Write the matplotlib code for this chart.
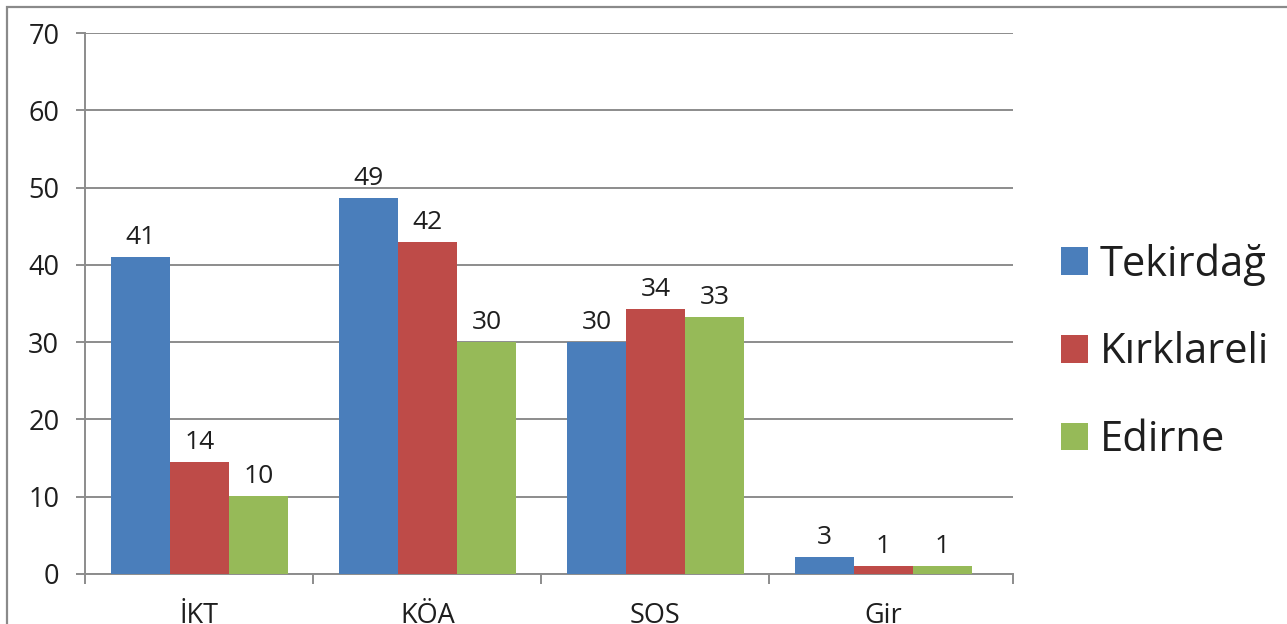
import matplotlib.pyplot as plt
import matplotlib.patches as mpatches
import numpy as np

plt.rcParams['font.family'] = ['Open Sans', 'DejaVu Sans']

categories = ["İKT", "KÖA", "SOS", "Gir"]
series = ["Tekirdağ", "Kırklareli", "Edirne"]
# bar heights as drawn, and the labels printed above them
tekirdag = [41.0, 48.7, 30.0, 2.2]
kirklareli = [14.5, 42.9, 34.3, 1.0]
edirne = [10.1, 30.0, 33.2, 1.0]
tekirdag_lbl = ["41", "49", "30", "3"]
kirklareli_lbl = ["14", "42", "34", "1"]
edirne_lbl = ["10", "30", "33", "1"]
colors = ["#4A7EBB", "#BE4B48", "#96BA58"]

values = [tekirdag, kirklareli, edirne]
labels = [tekirdag_lbl, kirklareli_lbl, edirne_lbl]

fig = plt.figure(figsize=(12.87, 6.24), dpi=100)
ax = fig.add_axes([85 / 1287, 1 - 574 / 624, (1013 - 85) / 1287, (574 - 33) / 624])

# outer chart border (cut off at right and bottom in the original)
fig.patches.append(mpatches.Rectangle((7 / 1287, -0.1), 1.2, 1.1 - 7 / 624,
                                      transform=fig.transFigure, fill=False,
                                      edgecolor="#8a8a8a", linewidth=1.6))

x = np.arange(len(categories))
w = 0.259
grid_c = "#8c8c8c"
txt_c = "#1e1e1e"
for i, (vals, lbls, c, name) in enumerate(zip(values, labels, colors, series)):
    bars = ax.bar(x + (i - 1) * w, vals, width=w, color=c, label=name, zorder=3)
    ax.bar_label(bars, labels=lbls, padding=5, fontsize=19, color=txt_c)

ax.set_xlim(-0.502, 3.568)
ax.set_ylim(0, 70)
ax.set_yticks(range(0, 71, 10))
ax.yaxis.grid(True, color=grid_c, linewidth=1.4, zorder=0)
ax.tick_params(axis="y", length=6.5, width=1.4, color=grid_c, pad=12,
               labelsize=19.5, labelcolor=txt_c)

xl = ax.get_xlim()
ax.set_xticks([xl[0], 0.5, 1.5, 2.5, xl[1]])
ax.set_xticklabels([])
ax.set_xticks(x, categories, minor=True)
ax.tick_params(axis="x", which="major", length=7, width=1.4, color=grid_c)
ax.tick_params(axis="x", which="minor", length=0, pad=20, labelsize=19.5,
               labelcolor=txt_c)

for s in ["top", "right"]:
    ax.spines[s].set_visible(False)
for s in ["left", "bottom"]:
    ax.spines[s].set_color(grid_c)
    ax.spines[s].set_linewidth(1.4)

ax.legend(loc="center left", bbox_to_anchor=(1.034, 0.41), frameon=False,
          fontsize=30, handlelength=0.64, handleheight=0.64,
          handletextpad=0.28, labelspacing=1.1, borderaxespad=0)
for t in ax.get_legend().get_texts():
    t.set_color(txt_c)

fig.savefig("out.png", dpi=100)
